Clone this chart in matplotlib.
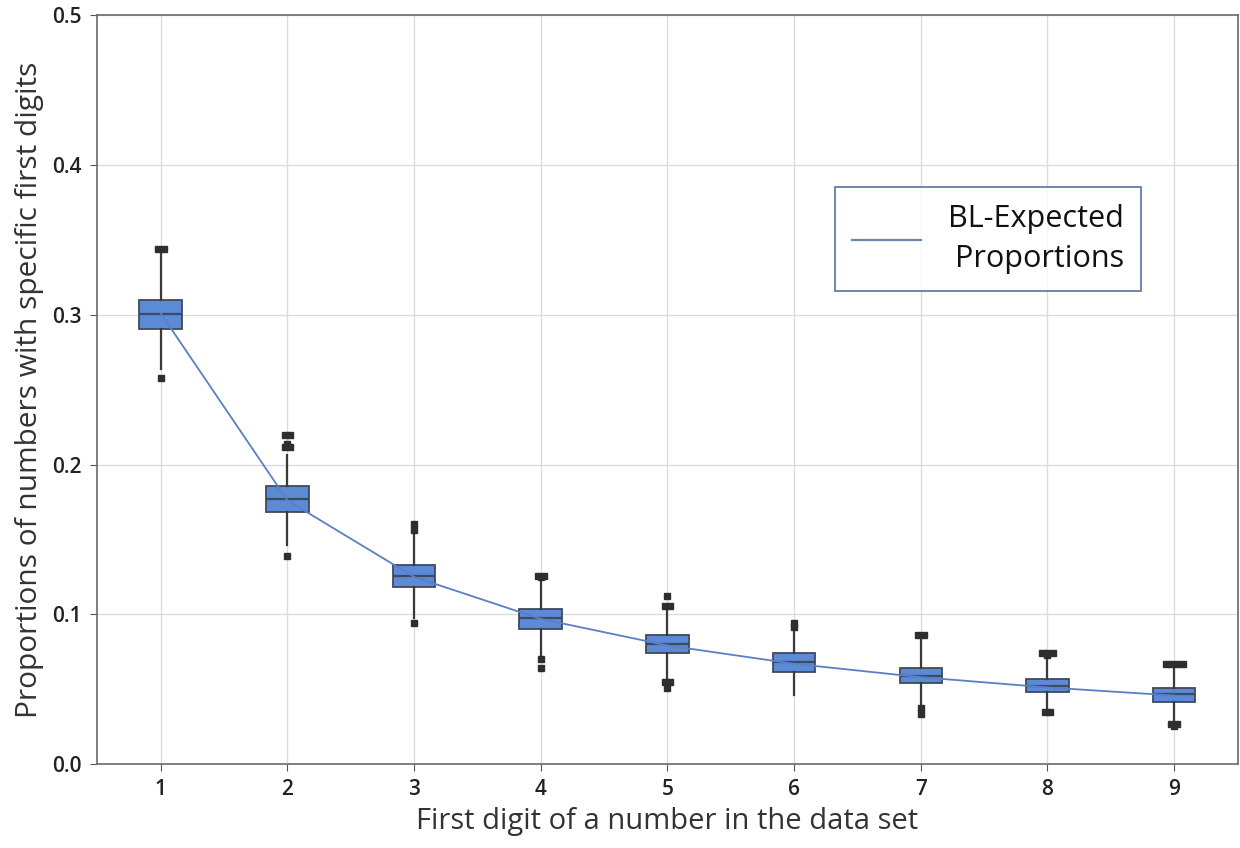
import numpy as np
import matplotlib
matplotlib.use("Agg")
import matplotlib.pyplot as plt

plt.rcParams['font.family'] = ['Open Sans', 'DejaVu Sans']

digits = [1, 2, 3, 4, 5, 6, 7, 8, 9]
q1 = [0.2907, 0.1684, 0.1184, 0.0901, 0.0743, 0.0612, 0.0539, 0.0478, 0.0416]
median = [0.3004, 0.1769, 0.1255, 0.0972, 0.0801, 0.0679, 0.0587, 0.0521, 0.0465]
q3 = [0.3102, 0.1860, 0.1328, 0.1033, 0.0861, 0.0739, 0.0639, 0.0565, 0.0505]
whisker_low = [0.2640, 0.1460, 0.0975, 0.0716, 0.0561, 0.0461, 0.0387, 0.0360, 0.0282]
whisker_high = [0.3405, 0.2063, 0.1530, 0.1228, 0.1039, 0.0894, 0.0839, 0.0716, 0.0656]
outliers = [
    [0.3440, 0.3440, 0.2580],
    [0.2120, 0.2120, 0.2140, 0.2196, 0.2196, 0.1390],
    [0.1560, 0.1606, 0.0940],
    [0.1255, 0.1255, 0.1250, 0.0700, 0.0640],
    [0.1057, 0.1057, 0.1121, 0.0550, 0.0550, 0.0510],
    [0.0912, 0.0939],
    [0.0861, 0.0861, 0.0376, 0.0334],
    [0.0743, 0.0743, 0.0743, 0.0730, 0.0345, 0.0345],
    [0.0668, 0.0668, 0.0668, 0.0668, 0.0267, 0.0267, 0.0254],
]
bl_expected = [np.log10(1 + 1 / d) for d in digits]

fig = plt.figure(figsize=(12.4, 8.48), dpi=100)
ax = fig.add_axes([0.0785, 0.099, 0.9195, 0.883])

stats = []
for i, d in enumerate(digits):
    stats.append(dict(med=median[i], q1=q1[i], q3=q3[i],
                      whislo=whisker_low[i], whishi=whisker_high[i], fliers=[]))

ax.bxp(stats, positions=digits, widths=0.336, showcaps=False, patch_artist=True,
       boxprops=dict(facecolor='#5b8ad6', edgecolor='#3f4a5a', linewidth=1.3),
       medianprops=dict(color='#3f4a5a', linewidth=1.6),
       whiskerprops=dict(color='#3a3a3a', linewidth=1.6),
       showfliers=False, zorder=3)

# outliers; coincident values stacked side by side
for i, d in enumerate(digits):
    vals = outliers[i]
    uniq = {}
    for v in vals:
        uniq[v] = uniq.get(v, 0) + 1
    for v, n in uniq.items():
        offs = (np.arange(n) - (n - 1) / 2) * 0.045
        ax.plot(d + offs, [v] * n, 's', color='#2e2e2e', markersize=4.2, zorder=4)

ax.plot(digits, bl_expected, color='#5b7fc6', linewidth=1.3, zorder=5,
        label='BL-Expected\nProportions')

ax.set_xlim(0.5, 9.5)
ax.set_ylim(0, 0.5)
ax.set_xticks(digits)
ax.set_yticks([0.0, 0.1, 0.2, 0.3, 0.4, 0.5])
ax.set_yticklabels(['0.0', '0.1', '0.2', '0.3', '0.4', '0.5'])
ax.tick_params(labelsize=15, colors='#222222', length=5, color='#555555', pad=6)
for lbl in ax.get_xticklabels() + ax.get_yticklabels():
    lbl.set_fontweight('semibold')
ax.grid(True, color='#dcdcdc', linewidth=1.0, zorder=0)
ax.set_axisbelow(True)
for s in ax.spines.values():
    s.set_color('#6a6a6a')
    s.set_linewidth(1.2)

ax.set_xlabel('First digit of a number in the data set', fontsize=21, color='#333333', labelpad=5)
ax.set_ylabel('Proportions of numbers with specific first digits', fontsize=21.5, color='#333333', labelpad=6)

leg = ax.legend(loc='upper left', bbox_to_anchor=(0.647, 0.771), fontsize=22,
                frameon=True, fancybox=False, handlelength=2.25, handletextpad=0.9,
                borderpad=0.55, borderaxespad=0)
leg.get_frame().set_edgecolor('#3d5f8f')
leg.get_frame().set_linewidth(1.3)
for t in leg.get_texts():
    t.set_multialignment('right')
    t.set_linespacing(1.45)
    t.set_color('#111111')
for h in leg.get_lines():
    h.set_color('#6b87a8')
    h.set_linewidth(1.6)

fig.savefig('out.png', dpi=100)
